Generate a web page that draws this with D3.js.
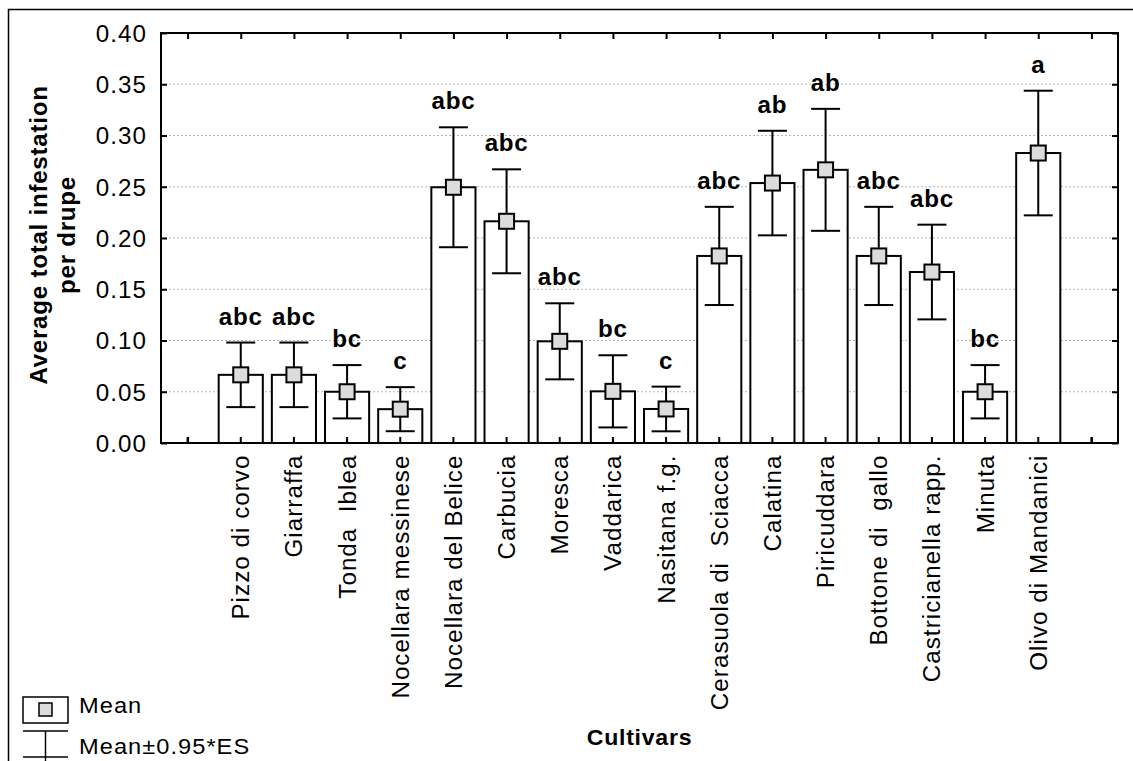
<!DOCTYPE html>
<html>
<head>
<meta charset="utf-8">
<script src="https://cdn.jsdelivr.net/npm/d3@7"></script>
<style>
    body { margin: 0; background: #fff; }
    text { font-family: "Liberation Sans", Arial, sans-serif; fill: #000; white-space: pre; letter-spacing: 1px; }
    text.bold { font-weight: bold; letter-spacing: 0.7px; }
</style>
</head>
<body>
<div id="plot"></div>
<script>
// Data
let cultivars = ['Pizzo di corvo', 'Giarraffa', 'Tonda  Iblea', 'Nocellara messinese', 'Nocellara del Belice',
    'Carbucia', 'Moresca', 'Vaddarica', 'Nasitana f.g.', 'Cerasuola di  Sciacca', 'Calatina', 'Piricuddara',
    'Bottone di  gallo', 'Castricianella rapp.', 'Minuta', 'Olivo di Mandanici'];
let means = [0.0665, 0.0665, 0.050, 0.033, 0.2495, 0.2163, 0.0992, 0.0504, 0.0332, 0.1825, 0.2536, 0.2665,
    0.1825, 0.1668, 0.050, 0.2829];
let errors = [0.0315, 0.0315, 0.026, 0.0215, 0.0585, 0.0507, 0.0371, 0.0352, 0.0218, 0.0479, 0.051, 0.0595,
    0.0479, 0.0462, 0.026, 0.0608];
let letters = ['abc', 'abc', 'bc', 'c', 'abc', 'abc', 'abc', 'bc', 'c', 'abc', 'ab', 'ab', 'abc', 'abc', 'bc', 'a'];
let yTicks = [0, 0.05, 0.10, 0.15, 0.20, 0.25, 0.30, 0.35, 0.40];

let svgWidth = 1133;
let svgHeight = 761;
// the original text is a bit wider than Arial
let stretch = 'scale(1.05,1)';

let plot = { left: 161, top: 33, right: 1118, bottom: 443 };

let $svg = d3.select('#plot')
    .append('svg')
    .attr('width', svgWidth)
    .attr('height', svgHeight);

// outer border
$svg.append('rect')
    .attr('x', 8.5).attr('y', 9.5)
    .attr('width', 1200).attr('height', 800)
    .attr('fill', 'none').attr('stroke', '#000').attr('stroke-width', 1.5);

// Empty slots at each end, like the original
let slots = ['_start', ...cultivars, '_end'];

let xScale = d3.scalePoint()
    .domain(slots)
    .range([plot.left, plot.right])
    .padding(0.5);

let yScale = d3.scaleLinear()
    .domain([0, 0.40])
    .range([plot.bottom, plot.top]);

let barWidth = xScale.step() * 0.83;

let rows = cultivars.map((c, i) => ({ name: c, mean: means[i], err: errors[i], letter: letters[i] }));

// grid
$svg.append('g')
    .selectAll('line')
    .data(yTicks.filter(t => t > 0 && t < 0.40))
    .enter()
    .append('line')
    .attr('x1', plot.left).attr('x2', plot.right)
    .attr('y1', d => yScale(d)).attr('y2', d => yScale(d))
    .attr('stroke', '#b5b5b5')
    .attr('stroke-width', 1)
    .attr('stroke-dasharray', '2,2');

// axes with inward ticks
let leftAxis = d3.axisLeft(yScale).tickValues(yTicks).tickFormat(d3.format('.2f'))
    .tickSizeInner(-6).tickSizeOuter(0);
let rightAxis = d3.axisRight(yScale).tickValues(yTicks).tickFormat('').tickSizeInner(-6).tickSizeOuter(0);
let topAxis = d3.axisTop(xScale).tickFormat('').tickSizeInner(-6).tickSizeOuter(0);
let bottomAxis = d3.axisBottom(xScale)
    .tickFormat(d => d.startsWith('_') ? '' : d)
    .tickSizeInner(-6).tickSizeOuter(0);

let $left = $svg.append('g').attr('transform', `translate(${plot.left},0)`).call(leftAxis);
$left.selectAll('text')
    .attr('x', 0).attr('dy', '0.36em')
    .attr('transform', `translate(-14,0) ${stretch}`)
    .style('font-size', '23px');

$svg.append('g').attr('transform', `translate(${plot.right},0)`).call(rightAxis);
$svg.append('g').attr('transform', `translate(0,${plot.top})`).call(topAxis);

let $bottom = $svg.append('g').attr('transform', `translate(0,${plot.bottom})`).call(bottomAxis);
$bottom.selectAll('text')
    .attr('x', -11).attr('y', 0).attr('dy', '0.35em')
    .attr('text-anchor', 'end')
    .attr('transform', `rotate(-90) ${stretch}`)
    .style('font-size', '23px');

$svg.selectAll('.domain').remove();
$svg.selectAll('.tick line').attr('stroke', '#000').attr('stroke-width', 2);

// bars
let $bars = $svg.append('g');
$bars.selectAll('rect')
    .data(rows)
    .enter()
    .append('rect')
    .attr('x', d => xScale(d.name) - barWidth / 2)
    .attr('y', d => yScale(d.mean))
    .attr('width', barWidth)
    .attr('height', d => yScale(0) - yScale(d.mean))
    .attr('fill', '#fff')
    .attr('stroke', '#000')
    .attr('stroke-width', 2);

// bottom tick marks again on top of the bars
$svg.append('g')
    .selectAll('line')
    .data(slots)
    .enter()
    .append('line')
    .attr('x1', d => xScale(d)).attr('x2', d => xScale(d))
    .attr('y1', plot.bottom).attr('y2', plot.bottom - 6)
    .attr('stroke', '#000').attr('stroke-width', 2);

// error bars
let capW = 29;
let $err = $svg.append('g').attr('stroke', '#000').attr('stroke-width', 2);
rows.forEach(d => {
    let cx = xScale(d.name);
    let y1 = yScale(d.mean + d.err);
    let y2 = yScale(d.mean - d.err);
    $err.append('line').attr('x1', cx).attr('x2', cx).attr('y1', y1).attr('y2', y2);
    $err.append('line').attr('x1', cx - capW / 2).attr('x2', cx + capW / 2).attr('y1', y1).attr('y2', y1);
    $err.append('line').attr('x1', cx - capW / 2).attr('x2', cx + capW / 2).attr('y1', y2).attr('y2', y2);
});

// mean markers
let mk = 15;
$svg.append('g')
    .selectAll('rect')
    .data(rows)
    .enter()
    .append('rect')
    .attr('x', d => xScale(d.name) - mk / 2)
    .attr('y', d => yScale(d.mean) - mk / 2)
    .attr('width', mk).attr('height', mk)
    .attr('fill', '#dcdcdc')
    .attr('stroke', '#000')
    .attr('stroke-width', 2);

// significance letters
$svg.append('g')
    .selectAll('text')
    .data(rows)
    .enter()
    .append('text')
    .attr('class', 'bold')
    .attr('transform', d => `translate(${xScale(d.name)},${yScale(d.mean + d.err) - 18}) ${stretch}`)
    .attr('text-anchor', 'middle')
    .style('font-size', '23px')
    .text(d => d.letter);

// plot frame
$svg.append('rect')
    .attr('x', plot.left).attr('y', plot.top)
    .attr('width', plot.right - plot.left)
    .attr('height', plot.bottom - plot.top)
    .attr('fill', 'none')
    .attr('stroke', '#000')
    .attr('stroke-width', 2);

// y axis title
let $yTitle = $svg.append('g')
    .attr('transform', `translate(0,${(plot.top + plot.bottom) / 2 - 3}) rotate(-90)`);
$yTitle.append('text')
    .attr('class', 'bold')
    .attr('y', 47).attr('text-anchor', 'middle')
    .attr('transform', stretch)
    .style('font-size', '23px')
    .text('Average total infestation');
$yTitle.append('text')
    .attr('class', 'bold')
    .attr('y', 75).attr('text-anchor', 'middle')
    .attr('transform', stretch)
    .style('font-size', '23px')
    .text('per drupe');

// x axis title
$svg.append('text')
    .attr('class', 'bold')
    .attr('transform', `translate(${(plot.left + plot.right) / 2},745) ${stretch}`)
    .attr('text-anchor', 'middle')
    .style('font-size', '22px')
    .text('Cultivars');

// legend
let $legend = $svg.append('g');
$legend.append('rect')
    .attr('x', 23).attr('y', 697).attr('width', 45).attr('height', 26)
    .attr('fill', '#fff').attr('stroke', '#000').attr('stroke-width', 1.5);
$legend.append('rect')
    .attr('x', 39).attr('y', 703).attr('width', 13).attr('height', 13)
    .attr('fill', '#dcdcdc').attr('stroke', '#000').attr('stroke-width', 1.5);
$legend.append('text')
    .attr('transform', `translate(79,713) ${stretch}`)
    .style('font-size', '22.5px')
    .text('Mean');
$legend.append('line').attr('x1', 23).attr('x2', 68).attr('y1', 731).attr('y2', 731)
    .attr('stroke', '#000').attr('stroke-width', 1.5);
$legend.append('line').attr('x1', 45.5).attr('x2', 45.5).attr('y1', 731).attr('y2', 761)
    .attr('stroke', '#000').attr('stroke-width', 1.5);
$legend.append('line').attr('x1', 23).attr('x2', 68).attr('y1', 757).attr('y2', 757)
    .attr('stroke', '#000').attr('stroke-width', 1.5);
$legend.append('text')
    .attr('transform', `translate(79,754) ${stretch}`)
    .style('font-size', '22.5px')
    .text('Mean±0.95*ES');
</script>
</body>
</html>
